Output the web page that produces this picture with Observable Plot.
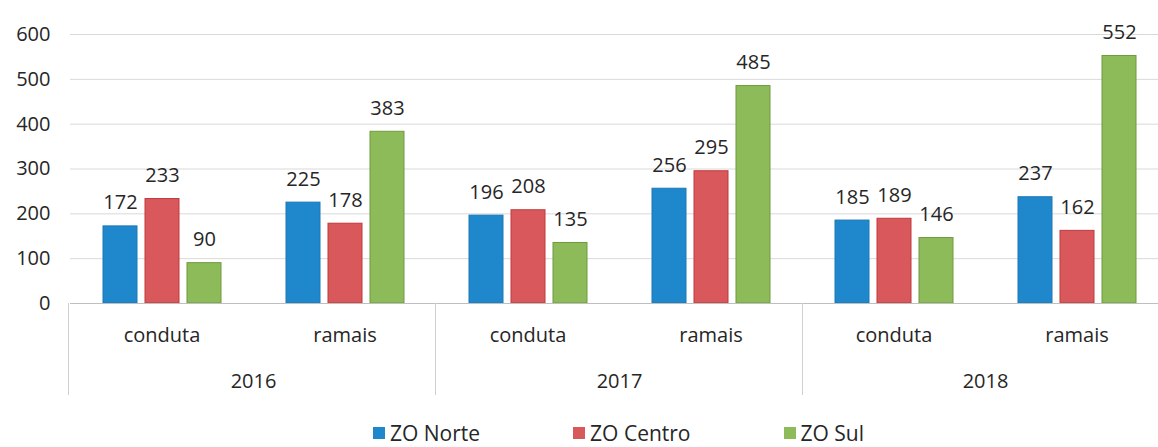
<!DOCTYPE html>
<html>
<head>
<meta charset="utf-8">
<script src="https://cdn.jsdelivr.net/npm/d3@7"></script>
<script src="https://cdn.jsdelivr.net/npm/@observablehq/plot@0.6"></script>
<style>
  body { margin: 0; background: #fff; font-family: "Open Sans", sans-serif; color: #262626; }
  #legend { position: relative; width: 1158px; height: 37px; }
  #legend .items { position: absolute; left: 0; top: 11px; display: flex; align-items: center; font-size: 21px; line-height: 24px; white-space: nowrap; }
  #legend .item { display: flex; align-items: center; }
  #legend .sw { width: 12px; height: 12px; margin-right: 5px; }
</style>
</head>
<body>
<div id="chart"></div>
<div id="legend"><div class="items"></div></div>
<script>
// ---- data ----
const years = ["2016", "2017", "2018"];
const types = ["conduta", "ramais"];
const zones = ["ZO Norte", "ZO Centro", "ZO Sul"];
const zoneColors = ["#1f87cc", "#d9585b", "#8dbb5a"];
const zoneStrokes = ["#1a78b8", "#c0393d", "#6f9a3e"];
// order: 2016 conduta, 2016 ramais, 2017 conduta, 2017 ramais, 2018 conduta, 2018 ramais
const norte  = [172, 225, 196, 256, 185, 237];
const centro = [233, 178, 208, 295, 189, 162];
const sul    = [90, 383, 135, 485, 146, 552];
const yTicks = [0, 100, 200, 300, 400, 500, 600];

const groups = years.flatMap(y => types.map(t => ({year: y, type: t, key: y + " " + t})));
const series = [norte, centro, sul];
const data = groups.flatMap((g, i) => zones.map((z, j) => ({...g, zone: z, value: series[j][i]})));
const keys = groups.map(g => g.key);

const W = 1158, H = 410;
const chart = Plot.plot({
  width: W,
  height: H,
  marginLeft: 68,
  marginRight: -11,
  marginTop: 34,
  marginBottom: 107,
  style: {fontFamily: "Open Sans", fontSize: "20px", color: "#262626", background: "transparent"},
  fx: {domain: keys, paddingInner: 0, paddingOuter: 0, axis: null, label: null},
  x: {domain: zones, paddingInner: 0.2, paddingOuter: 0.77, axis: null, label: null},
  y: {domain: [0, 600], axis: null, label: null},
  marks: [
    Plot.ruleY(yTicks.slice(1), {stroke: "#d9d9d9", strokeWidth: 1}),
    Plot.axisY(yTicks, {tickSize: 0, tickPadding: 20, label: null, fontSize: 20, fill: "#262626"}),
    ...zones.map((z, j) => Plot.barY(data.filter(d => d.zone === z), {
      fx: "key", x: "zone", y: "value",
      fill: zoneColors[j], stroke: zoneStrokes[j], strokeWidth: 1
    })),
    Plot.ruleY([0], {stroke: "#bfbfbf", strokeWidth: 1}),
    Plot.text(data, {
      fx: "key", x: "zone", y: "value", text: d => String(d.value),
      lineAnchor: "bottom", dy: -17, fontSize: 20, fill: "#262626"
    }),
    Plot.text(groups, {
      fx: "key", text: "type", frameAnchor: "bottom", lineAnchor: "top", dy: 24,
      fontSize: 20, fill: "#262626"
    }),
    Plot.text(groups.filter(g => g.type === "conduta"), {
      fx: "key", text: "year", frameAnchor: "bottom-right", textAnchor: "middle",
      lineAnchor: "top", dy: 70, fontSize: 20, fill: "#262626"
    })
  ]
});
document.getElementById("chart").appendChild(chart);

// ---- year separators, positioned from the plot's own scales ----
const fxS = chart.scale("fx");
const yS = chart.scale("y");
const fxBand = d3.scaleBand().domain(fxS.domain).range(fxS.range)
  .paddingInner(fxS.paddingInner ?? 0).paddingOuter(fxS.paddingOuter ?? 0).align(fxS.align ?? 0.5);
const yLin = d3.scaleLinear().domain(yS.domain).range(yS.range);
const y0 = yLin(0);
const sepG = d3.select(chart).append("g").attr("stroke", "#d0d0d0").attr("stroke-width", 1);
years.forEach(yr => {
  const xs = fxBand(yr + " conduta");
  sepG.append("line").attr("x1", xs + 0.5).attr("x2", xs + 0.5).attr("y1", y0).attr("y2", y0 + 92);
});

// ---- legend ----
const plotCenter = (fxS.range[0] + fxS.range[1]) / 2;
const items = d3.select("#legend .items");
zones.forEach((z, j) => {
  const it = items.append("div").attr("class", "item").style("margin-right", j < zones.length - 1 ? "93px" : "0");
  it.append("div").attr("class", "sw").style("background", zoneColors[j]);
  it.append("span").text(z);
});
const node = items.node();
node.style.left = (plotCenter - node.getBoundingClientRect().width / 2) + "px";
</script>
</body>
</html>
